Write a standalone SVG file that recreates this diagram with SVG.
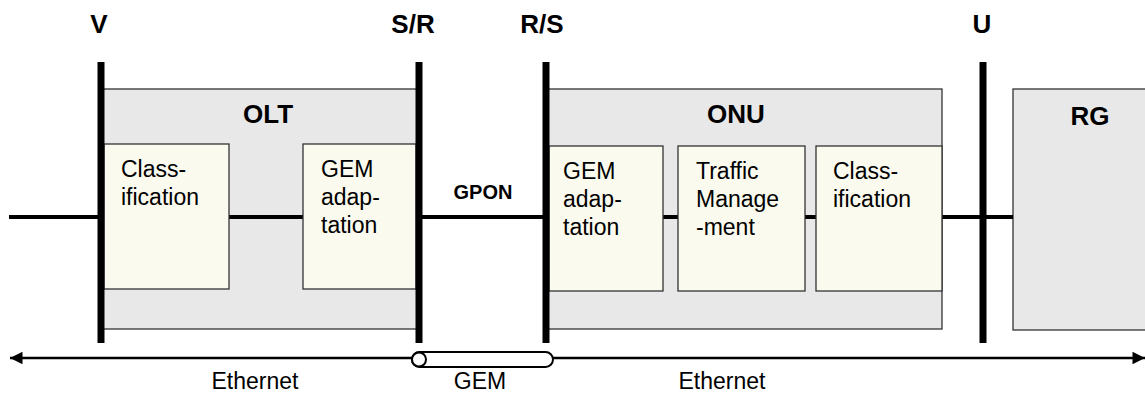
<svg xmlns="http://www.w3.org/2000/svg" width="1145" height="393" viewBox="0 0 1145 393">
<defs>
<style>
.outer{fill:#e8e8e8;stroke:#333;stroke-width:1.3}
.inner{fill:#fafaee;stroke:#333;stroke-width:1.3}
.bar{stroke:#000;stroke-width:7}
.wire{stroke:#000;stroke-width:4;fill:none}
.ref{font-family:"Liberation Sans",Arial,sans-serif;font-weight:bold;font-size:26px;text-anchor:middle;fill:#000}
.title{font-family:"Liberation Sans",Arial,sans-serif;font-weight:bold;font-size:26px;text-anchor:middle;fill:#000}
.body{font-family:"Liberation Sans",Arial,sans-serif;font-size:23px;fill:#000}
.mid{text-anchor:middle}
</style>
<marker id="ah" viewBox="0 0 10 10" refX="10" refY="5" markerWidth="6" markerHeight="5" orient="auto-start-reverse" markerUnits="strokeWidth">
<path d="M0,0 L10,5 L0,10 z" fill="#000"/>
</marker>
</defs>
<rect width="1145" height="393" fill="#fff"/>

<g id="OLT">
<rect class="outer" x="100" y="89" width="317" height="240"/>
<text class="title" x="268" y="123">OLT</text>
</g>
<g id="ONU">
<rect class="outer" x="546" y="89" width="396" height="240"/>
<text class="title" x="736" y="123">ONU</text>
</g>
<g id="RG">
<rect class="outer" x="1013" y="89" width="140" height="241"/>
<text class="title" x="1090" y="125">RG</text>
</g>

<g id="connectors">
<line class="wire" x1="9" y1="217" x2="100" y2="217"/>
<line class="wire" x1="229" y1="217" x2="303" y2="217"/>
<line class="wire" x1="419" y1="217" x2="546" y2="217"/>
<line class="wire" x1="663" y1="217" x2="678" y2="217"/>
<line class="wire" x1="805" y1="217" x2="816" y2="217"/>
<line class="wire" x1="942" y1="217" x2="1013" y2="217"/>
<line x1="10" y1="358" x2="1145" y2="358" stroke="#000" stroke-width="2.5" marker-start="url(#ah)" marker-end="url(#ah)"/>
<rect x="412" y="352" width="141" height="15" rx="7.5" ry="7.5" fill="#fff" stroke="#000" stroke-width="2"/>
<circle cx="419" cy="359.5" r="7" fill="#fff" stroke="#000" stroke-width="2"/>
</g>

<g id="olt-classification">
<rect class="inner" x="104" y="144" width="125" height="145"/>
<text class="body" x="121" y="177">Class-</text>
<text class="body" x="121" y="205">ification</text>
</g>
<g id="olt-gem-adaptation">
<rect class="inner" x="303" y="144" width="113" height="145"/>
<text class="body" x="321" y="177">GEM</text>
<text class="body" x="321" y="205">adap-</text>
<text class="body" x="321" y="233">tation</text>
</g>
<g id="onu-gem-adaptation">
<rect class="inner" x="549" y="146" width="114" height="145"/>
<text class="body" x="563" y="179">GEM</text>
<text class="body" x="563" y="207">adap-</text>
<text class="body" x="563" y="235">tation</text>
</g>
<g id="onu-traffic-management">
<rect class="inner" x="678" y="146" width="127" height="145"/>
<text class="body" x="696" y="179">Traffic</text>
<text class="body" x="696" y="207">Manage</text>
<text class="body" x="696" y="235">-ment</text>
</g>
<g id="onu-classification">
<rect class="inner" x="816" y="146" width="126" height="145"/>
<text class="body" x="833" y="179">Class-</text>
<text class="body" x="833" y="207">ification</text>
</g>

<g id="ref-points">
<line class="bar" x1="101" y1="62" x2="101" y2="343"/>
<line class="bar" x1="419" y1="62" x2="419" y2="343"/>
<line class="bar" x1="546" y1="62" x2="546" y2="343"/>
<line class="bar" x1="983" y1="62" x2="983" y2="343"/>
<text class="ref" x="99" y="33">V</text>
<text class="ref" x="413" y="33">S/R</text>
<text class="ref" x="542" y="33">R/S</text>
<text class="ref" x="982" y="33">U</text>
</g>

<g id="labels">
<text style="font-family:'Liberation Sans',Arial,sans-serif;font-weight:bold;font-size:20px;text-anchor:middle" x="483" y="199">GPON</text>
<text class="body mid" x="255" y="389">Ethernet</text>
<text class="body mid" x="480" y="389">GEM</text>
<text class="body mid" x="722" y="389">Ethernet</text>
</g>
</svg>
